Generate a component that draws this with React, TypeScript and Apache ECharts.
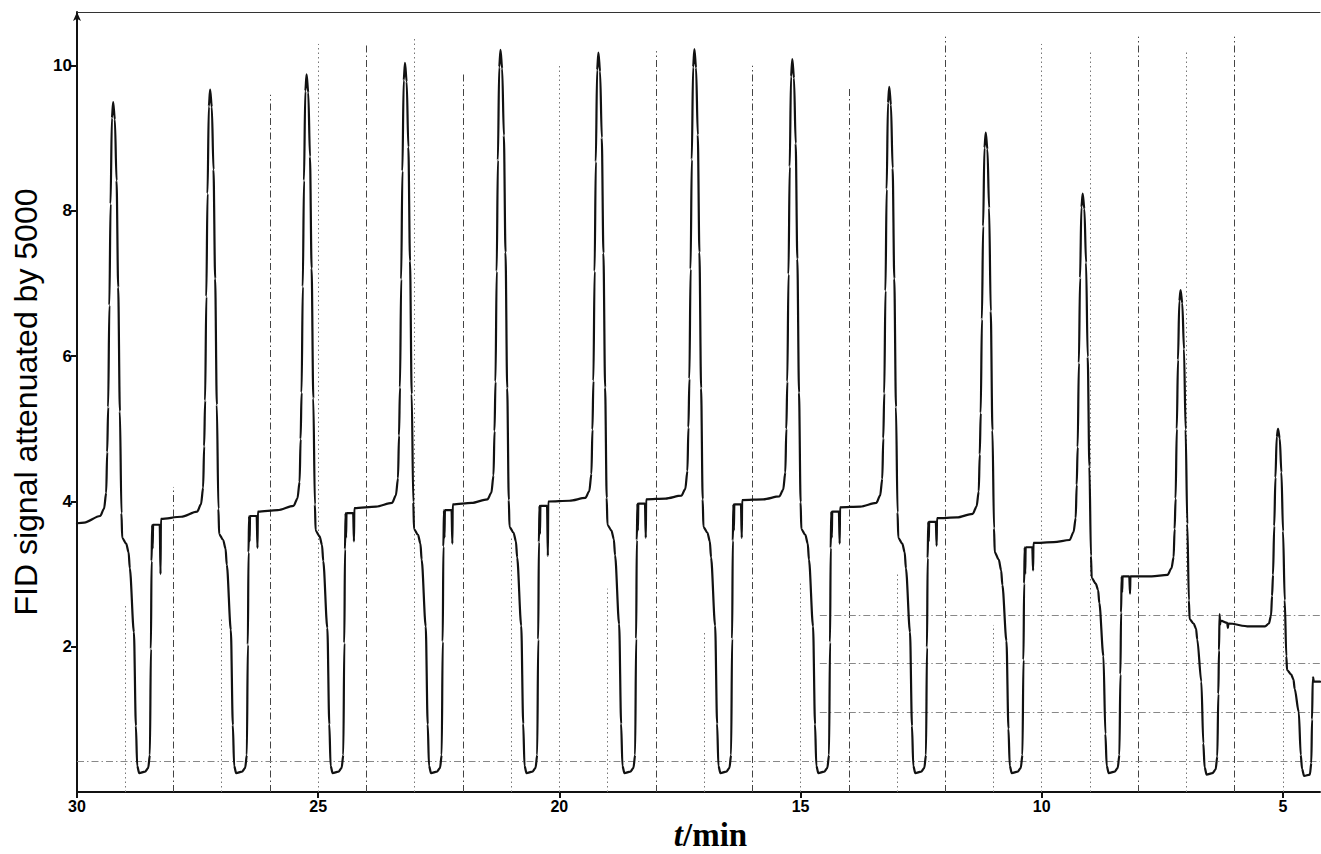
import React, { useEffect, useRef } from "react";
import * as echarts from "echarts";

// Peak retention positions (min)
const peakTimes = [29.25, 27.24, 25.24, 23.2, 21.22, 19.19, 17.2, 15.17, 13.16, 11.16, 9.15, 7.12, 5.1];

// Time offsets (min) from each peak of the read profile points
const profileOffsets = [
  0.6, 0.27, 0.19, 0.145, 0.124, 0.104, 0.079, 0.054, 0.027, 0, -0.035, -0.07, -0.104, -0.139,
  -0.172, -0.187, -0.27, -0.32, -0.345, -0.43, -0.471, -0.498, -0.54, -0.66, -0.726, -0.761,
  -0.782, -0.796, -0.808, -0.818, -0.828, -0.965, -0.982, -0.99,
];

// Signal values read for each cycle at the profile points
const cycle1 = [3.71, 3.8, 3.9, 4.12, 4.68, 5.3, 6.7, 8.1, 9.28, 9.5, 9.26, 8.42, 6.95, 5.24, 3.84, 3.5, 3.42, 3.3, 3.08, 2.2, 0.91, 0.36, 0.26, 0.28, 0.33, 0.51, 1.97, 3.18, 3.68, 3.35, 3.68, 3.68, 3.0, 3.76];
const cycle2 = [3.79, 3.86, 3.96, 4.19, 4.76, 5.39, 6.82, 8.24, 9.44, 9.67, 9.43, 8.57, 7.07, 5.33, 3.9, 3.55, 3.47, 3.35, 3.13, 2.23, 0.92, 0.36, 0.26, 0.28, 0.33, 0.51, 2.03, 3.3, 3.8, 3.45, 3.8, 3.8, 3.36, 3.86];
const cycle3 = [3.88, 3.94, 4.04, 4.27, 4.86, 5.5, 6.96, 8.42, 9.65, 9.88, 9.63, 8.75, 7.21, 5.42, 3.96, 3.6, 3.52, 3.4, 3.18, 2.26, 0.93, 0.36, 0.26, 0.28, 0.33, 0.51, 2.05, 3.34, 3.84, 3.5, 3.84, 3.84, 3.45, 3.91];
const cycle4 = [3.93, 3.98, 4.08, 4.32, 4.91, 5.57, 7.06, 8.55, 9.8, 10.04, 9.78, 8.88, 7.31, 5.48, 3.99, 3.62, 3.54, 3.42, 3.2, 2.28, 0.93, 0.36, 0.26, 0.28, 0.33, 0.51, 2.07, 3.38, 3.88, 3.5, 3.88, 3.88, 3.42, 3.96];
const cycle5 = [3.98, 4.03, 4.12, 4.36, 4.97, 5.65, 7.17, 8.7, 9.98, 10.22, 9.96, 9.04, 7.43, 5.56, 4.02, 3.65, 3.57, 3.45, 3.23, 2.29, 0.94, 0.36, 0.26, 0.28, 0.33, 0.51, 2.1, 3.44, 3.94, 3.55, 3.94, 3.94, 3.25, 4.0];
const cycle6 = [4.01, 4.05, 4.14, 4.38, 4.99, 5.66, 7.17, 8.68, 9.94, 10.18, 9.92, 9.01, 7.42, 5.57, 4.05, 3.68, 3.6, 3.48, 3.26, 2.31, 0.94, 0.36, 0.26, 0.28, 0.33, 0.51, 2.11, 3.47, 3.97, 3.6, 3.97, 3.97, 3.5, 4.03];
const cycle7 = [4.04, 4.08, 4.17, 4.42, 5.02, 5.69, 7.2, 8.71, 9.98, 10.23, 9.97, 9.05, 7.43, 5.56, 4.03, 3.65, 3.57, 3.45, 3.23, 2.29, 0.94, 0.36, 0.26, 0.28, 0.33, 0.51, 2.11, 3.46, 3.96, 3.6, 3.96, 3.96, 3.5, 4.02];
const cycle8 = [4.03, 4.07, 4.16, 4.4, 5.0, 5.65, 7.13, 8.61, 9.85, 10.09, 9.83, 8.93, 7.34, 5.5, 3.99, 3.62, 3.54, 3.42, 3.2, 2.28, 0.93, 0.36, 0.26, 0.28, 0.33, 0.51, 2.06, 3.36, 3.86, 3.5, 3.86, 3.86, 3.42, 3.92];
const cycle9 = [3.93, 3.98, 4.08, 4.31, 4.87, 5.49, 6.9, 8.3, 9.49, 9.71, 9.46, 8.59, 7.07, 5.3, 3.85, 3.5, 3.42, 3.3, 3.08, 2.2, 0.91, 0.36, 0.26, 0.28, 0.33, 0.51, 1.99, 3.22, 3.72, 3.45, 3.72, 3.72, 3.39, 3.77];
const cycle10 = [3.78, 3.83, 3.93, 4.14, 4.65, 5.22, 6.51, 7.79, 8.87, 9.08, 8.85, 8.04, 6.62, 4.98, 3.63, 3.3, 3.2, 3.05, 2.85, 2.08, 0.87, 0.36, 0.26, 0.28, 0.33, 0.51, 1.82, 2.87, 3.37, 3.0, 3.37, 3.37, 3.05, 3.43];
const cycle11 = [3.44, 3.47, 3.58, 3.77, 4.23, 4.75, 5.91, 7.08, 8.05, 8.24, 8.03, 7.29, 5.99, 4.48, 3.25, 2.95, 2.87, 2.78, 2.6, 1.87, 0.8, 0.36, 0.26, 0.28, 0.33, 0.51, 1.62, 2.47, 2.97, 2.75, 2.97, 2.97, 2.73, 2.97];
const cycle12 = [2.97, 2.99, 3.08, 3.23, 3.62, 4.04, 5.0, 5.95, 6.76, 6.91, 6.73, 6.1, 4.99, 3.69, 2.64, 2.38, 2.32, 2.25, 2.1, 1.52, 0.67, 0.34, 0.24, 0.26, 0.31, 0.49, 1.35, 1.95, 2.45, 2.3, 2.36, 2.33, 2.26, 2.32];
const cycle13 = [2.28, 2.28, 2.32, 2.43, 2.7, 2.99, 3.66, 4.33, 4.89, 5.0, 4.87, 4.4, 3.59, 2.64, 1.87, 1.68, 1.62, 1.55, 1.42, 1.1, 0.51, 0.32, 0.22, 0.24];
const cycleValues = [cycle1, cycle2, cycle3, cycle4, cycle5, cycle6, cycle7, cycle8, cycle9, cycle10, cycle11, cycle12, cycle13];

// Trace start and the truncated end at the right edge
const traceHead = [[30, 3.7]];
const traceTail = [[4.41, 0.4], [4.395, 1.0], [4.38, 1.56], [4.372, 1.58], [4.36, 1.52], [4.23, 1.52]];

// Axis ticks
const xTickValues = [30, 25, 20, 15, 10, 5];
const yTickValues = [2, 4, 6, 8, 10];

// Chart-paper grid (minute lines and their visible tops)
const gridMinutes = [29, 28, 27, 26, 25, 24, 23, 22, 21, 20, 19, 18, 17, 16, 15, 14, 13, 12, 11, 10, 9, 8, 7, 6, 5];
const gridTops = [2.6, 4.2, 2.4, 9.6, 10.3, 10.3, 10.4, 9.9, 3.5, 10.0, 2.8, 10.2, 2.2, 10.0, 2.9, 9.7, 3.0, 10.4, 2.3, 10.3, 10.2, 10.4, 10.2, 10.4, 2.6];
const paperRows = [0.42, 1.1, 1.77, 2.44];
const paperRowStarts = [30, 14.6, 14.6, 14.6];

const X_MIN = 4.23;
const X_MAX = 30;
const Y_MAX = 10.74;

const SANS = "'Liberation Sans', Arial, Helvetica, sans-serif";
const SERIF = "'Liberation Serif', 'Times New Roman', serif";

export default function App() {
  const ref = useRef<HTMLDivElement>(null);

  useEffect(() => {
    if (!ref.current) return;
    const chart = echarts.init(ref.current, undefined, { renderer: "svg" });

    const trace: number[][] = [...traceHead];
    cycleValues.forEach((vals, i) => {
      vals.forEach((v, j) => {
        trace.push([+(peakTimes[i] + profileOffsets[j]).toFixed(3), v]);
      });
    });
    traceTail.forEach((p) => trace.push(p));

    const minuteLines = gridMinutes.map((m, i) => {
      const even = m % 2 === 0 && m % 5 !== 0;
      return [
        {
          coord: [m, 0],
          lineStyle: even
            ? { color: "#444", width: 1, type: [7, 3, 1.5, 3] }
            : { color: "#777", width: 1, type: [1.5, 3] },
        },
        { coord: [m, gridTops[i]] },
      ];
    });
    const rowLines = paperRows.map((r, i) => [
      { coord: [paperRowStarts[i], r], lineStyle: { color: "#888", width: 1, type: [7, 3, 1.5, 3] } },
      { coord: [X_MIN, r] },
    ]);

    const option = {
      animation: false,
      backgroundColor: "#ffffff",
      grid: { left: 77, right: 1, top: 12, bottom: 62, containLabel: false, outerBoundsMode: "none" },
      xAxis: [
        {
          type: "value",
          min: X_MIN,
          max: X_MAX,
          inverse: true,
          name: "{i|t}{b|/min}",
          nameLocation: "middle",
          nameGap: 20,
          nameTextStyle: {
            padding: [0, 0, 0, 24],
            rich: {
              i: { fontFamily: SERIF, fontStyle: "italic", fontWeight: "bold", fontSize: 33, color: "#000" },
              b: { fontFamily: SERIF, fontWeight: "bold", fontSize: 33, color: "#000" },
            },
          },
          axisLine: { show: true, onZero: false, lineStyle: { color: "#111", width: 2 } },
          axisTick: { show: true, customValues: xTickValues, length: 6, lineStyle: { color: "#111", width: 2 } },
          axisLabel: {
            customValues: xTickValues,
            fontFamily: SANS,
            fontWeight: "bold",
            fontSize: 16,
            color: "#000",
            margin: 6,
          },
          splitLine: { show: false },
        },
        {
          type: "value",
          min: X_MIN,
          max: X_MAX,
          inverse: true,
          position: "top",
          axisLine: { show: true, onZero: false, lineStyle: { color: "#333", width: 1 } },
          axisTick: { show: false },
          axisLabel: { show: false },
          splitLine: { show: false },
        },
      ],
      yAxis: {
        type: "value",
        min: 0,
        max: Y_MAX,
        name: "FID signal attenuated by 5000",
        nameLocation: "middle",
        nameGap: 30,
        nameTextStyle: { fontFamily: SANS, fontSize: 32, color: "#000" },
        axisLine: {
          show: true,
          onZero: false,
          lineStyle: { color: "#111", width: 2 },
          symbol: ["none", "arrow"],
          symbolSize: [6, 9],
        },
        axisTick: { show: true, customValues: yTickValues, length: 6, lineStyle: { color: "#111", width: 2 } },
        axisLabel: {
          customValues: yTickValues,
          fontFamily: SANS,
          fontWeight: "bold",
          fontSize: 17,
          color: "#000",
          margin: 5,
        },
        splitLine: { show: false },
      },
      series: [
        {
          type: "line",
          data: [],
          silent: true,
          markLine: {
            silent: true,
            symbol: "none",
            label: { show: false },
            animation: false,
            data: [...minuteLines, ...rowLines],
          },
        },
        {
          type: "line",
          data: trace,
          showSymbol: false,
          symbol: "none",
          silent: true,
          smooth: 0.3,
          smoothMonotone: "x",
          lineStyle: { color: "#111", width: 2.2, join: "round", cap: "round" },
          z: 5,
        },
      ],
    };

    chart.setOption(option as any);
    return () => chart.dispose();
  }, []);

  return (
    <div
      ref={ref}
      style={{ position: "fixed", left: 0, top: 0, width: 1321, height: 854, background: "#fff" }}
    />
  );
}
